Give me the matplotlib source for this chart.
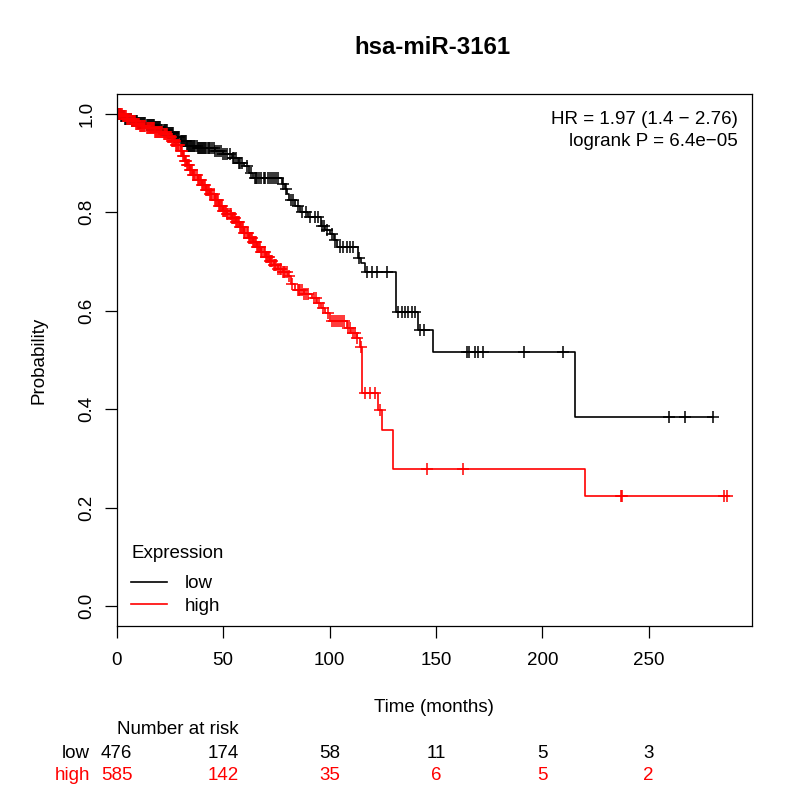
import numpy as np
import matplotlib
matplotlib.use("Agg")
import matplotlib.pyplot as plt
from matplotlib.lines import Line2D
import matplotlib.transforms as mtransforms

plt.rcParams['font.family'] = ['Liberation Sans', 'DejaVu Sans']

title = "hsa-miR-3161"
groups = ["low", "high"]
colors = ["black", "red"]

# Kaplan-Meier step points (time, survival after step)
low_times = [0, 2, 4, 7, 10, 14, 18, 21, 24, 27, 30, 33, 38, 46, 50, 54, 57, 60, 62, 64,
             77.5, 79, 80, 81, 84, 86, 90, 96, 98, 100, 102, 103.5, 113.4, 115, 116.5,
             131.3, 141.6, 148.8, 215.4, 280.1]
low_surv = [1.0, 0.995, 0.99, 0.986, 0.982, 0.978, 0.973, 0.966, 0.96, 0.953, 0.945, 0.935,
            0.93, 0.925, 0.918, 0.91, 0.90, 0.893, 0.88, 0.869, 0.858, 0.848, 0.838, 0.824,
            0.812, 0.80, 0.79, 0.773, 0.763, 0.755, 0.743, 0.73, 0.707, 0.696, 0.679,
            0.598, 0.561, 0.5156, 0.385, 0.385]
low_censor = [0.5, 1, 1.5, 2, 2.5, 3, 3.5, 4, 4.5, 5, 5.5, 6, 6.5, 7, 7.5, 8, 8.5, 9, 9.5,
              10, 10.5, 11, 11.5, 12, 12.5, 13, 13.5, 14, 14.5, 15, 15.5, 16, 16.5, 17, 17.5,
              18, 18.5, 19, 19.5, 20, 20.5, 21, 21.5, 22, 22.5, 23, 23.5, 24, 24.5, 25, 25.5,
              26, 26.5, 27, 27.5, 28, 28.5, 29, 29.5, 30, 30.5, 31, 31.5, 32, 32.5, 33, 33.5,
              34, 34.5, 35, 35.5, 36, 36.5, 37, 37.5, 38, 38.5, 39, 39.5, 40, 40.5, 41, 41.5,
              42, 43, 43.5, 44, 45, 45.5, 46, 47, 48, 49, 50, 51, 52, 53, 54.5, 55, 56, 57.5,
              58, 59, 61, 63, 65, 65.5, 66, 67, 68, 69, 69.5, 71, 72, 73, 74, 75, 76, 78, 79.5,
              82, 83, 85, 87, 89, 91, 93, 94.7, 96.5, 97.5, 99, 101, 102.5, 105, 106.5, 108,
              109.6, 111, 114, 117.5, 119.8, 122.2, 126.9, 132.3, 134, 135.5, 137, 138.7,
              140, 142.5, 144.5, 164.5, 165.5, 168.4, 170, 172.3, 191.4, 209.9, 259.5, 267.2,
              280.1]

high_times = [0, 3, 5, 7, 9, 11, 14, 18, 22, 24, 26, 28, 30, 31, 32, 33, 34.5, 36, 38, 40,
              42, 44, 46, 48, 50, 52, 54, 56, 58, 60, 62, 64, 66, 68, 70, 72, 74, 76, 78,
              80.5, 82, 84, 88, 92, 94, 96, 98, 100, 108, 110, 113, 114.4, 115.1, 122.6,
              124.5, 130, 220.1, 287]
high_surv = [1.0, 0.995, 0.99, 0.985, 0.98, 0.975, 0.97, 0.963, 0.958, 0.952, 0.945, 0.937,
             0.925, 0.915, 0.905, 0.895, 0.885, 0.875, 0.865, 0.855, 0.845, 0.836, 0.825,
             0.812, 0.803, 0.796, 0.788, 0.78, 0.77, 0.758, 0.748, 0.74, 0.73, 0.72, 0.71,
             0.70, 0.692, 0.685, 0.678, 0.67, 0.655, 0.642, 0.635, 0.625, 0.615, 0.605,
             0.595, 0.58, 0.565, 0.555, 0.545, 0.527, 0.434, 0.399, 0.358, 0.278, 0.223,
             0.223]
high_censor = [0.5, 1, 1.5, 2, 2.5, 3, 3.5, 4, 4.5, 5, 5.5, 6, 6.5, 7, 7.5, 8, 8.5, 9, 9.5,
               10, 10.5, 11, 11.5, 12, 12.5, 13, 13.5, 14, 14.5, 15, 15.5, 16, 16.5, 17, 17.5,
               18, 18.5, 19, 19.5, 20, 20.5, 21, 21.5, 22, 22.5, 23, 23.5, 24, 24.5, 25, 25.5,
               26, 26.5, 27, 27.5, 28, 28.5, 29, 29.5, 30, 30.5, 31, 31.5, 32, 32.5, 33, 33.5,
               34, 34.5, 35, 35.5, 36, 36.5, 37, 37.5, 38, 38.5, 39, 39.5, 40, 40.5, 41, 41.5,
               42, 42.5, 43, 43.5, 44, 44.5, 45, 45.5, 46, 46.5, 47, 47.5, 48, 48.5, 49, 49.5,
               50, 50.5, 51, 51.5, 52, 52.5, 53, 53.5, 54, 54.5, 55, 55.5, 56, 56.5, 57, 57.5,
               58, 58.5, 59, 59.5, 60, 60.5, 61, 61.5, 62, 62.5, 63, 63.5, 64, 64.5, 65, 65.5,
               66, 66.5, 67, 67.5, 68, 68.5, 69, 69.5, 70, 70.5, 71, 71.5, 72, 72.5, 73, 74,
               74.5, 75, 76, 76.5, 77, 78, 78.5, 79, 80, 81, 82.5, 85, 85.5, 86, 87, 88, 89,
               90, 92.5, 93.5, 95, 97, 99.5, 101, 102, 103, 104, 105, 106, 107, 108.5, 109.5,
               111, 112, 113, 115, 116.7, 119, 121.4, 123.7, 145.8, 162.7, 237.1, 237.5,
               285.5, 287]

risk_times = [0, 50, 100, 150, 200, 250]
risk_low = [476, 174, 58, 11, 5, 3]
risk_high = [585, 142, 35, 6, 5, 2]

x_ticks = [0, 50, 100, 150, 200, 250]
y_ticks = [0.0, 0.2, 0.4, 0.6, 0.8, 1.0]
y_ticklabels = ["0.0", "0.2", "0.4", "0.6", "0.8", "1.0"]

hr_text = "HR = 1.97 (1.4 \u2212 2.76)"
p_text = "logrank P = 6.4e\u221205"

FS = 13.5

fig = plt.figure(figsize=(8, 8), dpi=100)
ax = fig.add_axes([0.1459, 0.2175, 0.794, 0.665])

series = [(low_times, low_surv, low_censor), (high_times, high_surv, high_censor)]
for (t, s, c), col in zip(series, colors):
    t = np.asarray(t, float)
    s = np.asarray(s, float)
    ax.step(t, s, where='post', color=col, lw=1.2)
    c = np.asarray(c, float)
    idx = np.searchsorted(t, c, side='right') - 1
    ax.plot(c, s[idx], linestyle='none', marker='+', color=col, ms=8.5, mew=1.1)

ax.set_xlim(0, 298.5)
ax.set_ylim(-0.04, 1.04)
ax.set_xticks(x_ticks)
ax.set_xticklabels([str(v) for v in x_ticks])
ax.set_yticks(y_ticks)
ax.set_yticklabels(y_ticklabels, rotation=90, va='center')
ax.tick_params(axis='both', direction='out', length=8.4, width=0.9, labelsize=FS)
ax.tick_params(axis='x', pad=10)
ax.tick_params(axis='y', pad=7)
for sp in ax.spines.values():
    sp.set_linewidth(0.9)

ax.set_xlabel("Time (months)", fontsize=FS, labelpad=22)
ax.set_ylabel("Probability", fontsize=FS, labelpad=22)

fig.text(0.5406, 1 - 47 / 800, title, ha='center', va='center', fontsize=17.3,
         fontweight='bold')

ax.text(0.978, 0.953, hr_text, transform=ax.transAxes, ha='right', va='center', fontsize=FS)
ax.text(0.978, 0.910, p_text, transform=ax.transAxes, ha='right', va='center', fontsize=FS)

handles = [Line2D([], [], color=c, lw=1.2) for c in colors]
leg = ax.legend(handles, groups, title="Expression", loc='upper left',
                bbox_to_anchor=(0.002, 0.176), frameon=False, fontsize=FS,
                title_fontsize=FS, handlelength=1.9, handletextpad=0.95,
                labelspacing=0.3, alignment='left', borderaxespad=0.3)
leg._legend_box.sep = 9

trans = mtransforms.blended_transform_factory(ax.transData, fig.transFigure)
fig.text(116.7 / 800, 1 - 730 / 800, "Number at risk", ha='left', va='center', fontsize=FS)
row_y = [1 - 753 / 800, 1 - 775 / 800]
for gname, col, vals, yy in zip(groups, colors, [risk_low, risk_high], row_y):
    fig.text(90 / 800, yy, gname, ha='right', va='center', fontsize=FS, color=col)
    for tt, v in zip(risk_times, vals):
        ax.text(tt, yy, str(v), transform=trans, ha='center', va='center', fontsize=FS,
                color=col)

fig.savefig("out.png", dpi=100)
